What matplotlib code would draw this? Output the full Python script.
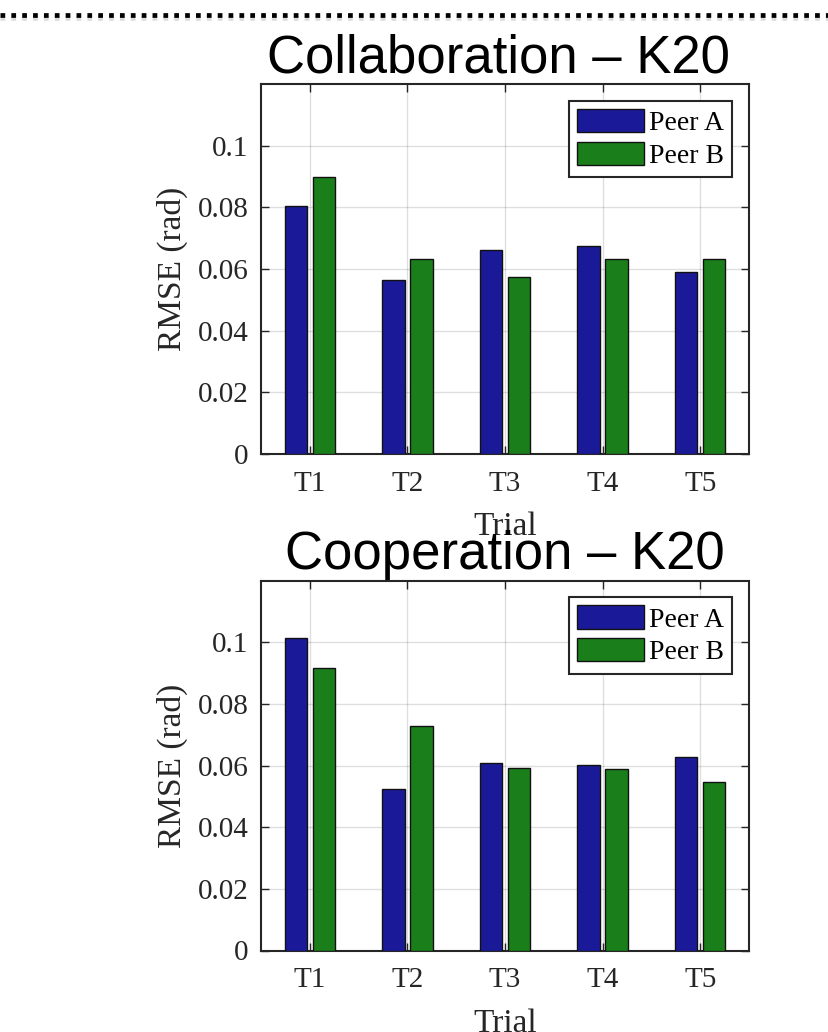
import numpy as np
import matplotlib.pyplot as plt
from matplotlib.lines import Line2D
from matplotlib.ticker import FormatStrFormatter

trials = ['T1', 'T2', 'T3', 'T4', 'T5']
peers = ['Peer A', 'Peer B']
titles = ['Collaboration – K20', 'Cooperation – K20']

collab_a = [0.0803, 0.0565, 0.0663, 0.0673, 0.0589]
collab_b = [0.0899, 0.0633, 0.0574, 0.0633, 0.0633]
coop_a = [0.1014, 0.0523, 0.0608, 0.0601, 0.0629]
coop_b = [0.0917, 0.0727, 0.0593, 0.0588, 0.0548]

W, H = 829, 1032
plt.rcParams['font.family'] = ['Liberation Serif', 'DejaVu Serif']
fig = plt.figure(figsize=(W / 100, H / 100), dpi=100)

# dotted line across the top (with a soft shadow)
fig.add_artist(Line2D([0, 1], [1 - 18 / H, 1 - 18 / H], transform=fig.transFigure,
                      color='#bbbbbb', lw=3.4, alpha=0.5,
                      linestyle=(0, (1, 1.3)), dash_capstyle='butt'))
fig.add_artist(Line2D([0, 1], [1 - 15 / H, 1 - 15 / H], transform=fig.transFigure,
                      color='black', lw=3.4, linestyle=(0, (1, 1.3)), dash_capstyle='butt'))


def panel(top_px, a, b, title, title_x):
    left, right, bottom = 261, 749, top_px + 370
    ax = fig.add_axes([left / W, 1 - bottom / H, (right - left) / W, 370 / H])
    x = np.arange(1, len(trials) + 1)
    ax.bar(x - 0.143, a, 0.2286, color='#1a1a99', edgecolor='#111111', lw=1,
           label=peers[0], zorder=3)
    ax.bar(x + 0.143, b, 0.2286, color='#1a7f1a', edgecolor='#111111', lw=1,
           label=peers[1], zorder=3)
    ax.set_xlim(0.5, 5.5)
    ax.set_ylim(0, 0.12)
    ax.set_xticks(x)
    ax.set_xticklabels(trials)
    ax.set_yticks(np.arange(0, 0.101, 0.02))
    ax.yaxis.set_major_formatter(FormatStrFormatter('%g'))
    ax.tick_params(direction='in', length=6, width=1, top=True, right=True,
                   labelsize=21, colors='#262626', pad=9)
    ax.tick_params(axis='x', pad=12)
    for s in ax.spines.values():
        s.set_color('#262626')
        s.set_linewidth(1.5)
    ax.grid(True, color='#262626', alpha=0.15, lw=1, zorder=0)
    ax.set_axisbelow(True)

    ax.set_xlabel('Trial', fontsize=24, color='#262626')
    ax.xaxis.set_label_coords(0.5, -81 / 370)
    ax.xaxis.label.set_va('baseline')
    ax.set_ylabel('RMSE (rad)', fontsize=24, color='#262626')
    ax.yaxis.set_label_coords((172.5 - left) / (right - left), 0.5)
    ax.yaxis.label.set_va('center')

    leg = ax.legend(loc='upper right', fontsize=20, handlelength=2.4, handleheight=0.9,
                    handletextpad=0.18, labelspacing=0.2, borderpad=0.3,
                    borderaxespad=0.6, fancybox=False, framealpha=1, edgecolor='#262626')
    leg.get_frame().set_linewidth(1.5)

    fig.text(title_x / W, 1 - (top_px - 11.5) / H, title, ha='center', va='baseline',
             fontsize=38, family='Liberation Sans', color='black')
    return ax


panel(84, collab_a, collab_b, titles[0], 498)
panel(580.5, coop_a, coop_b, titles[1], 505)

fig.savefig('out.png', dpi=100)
